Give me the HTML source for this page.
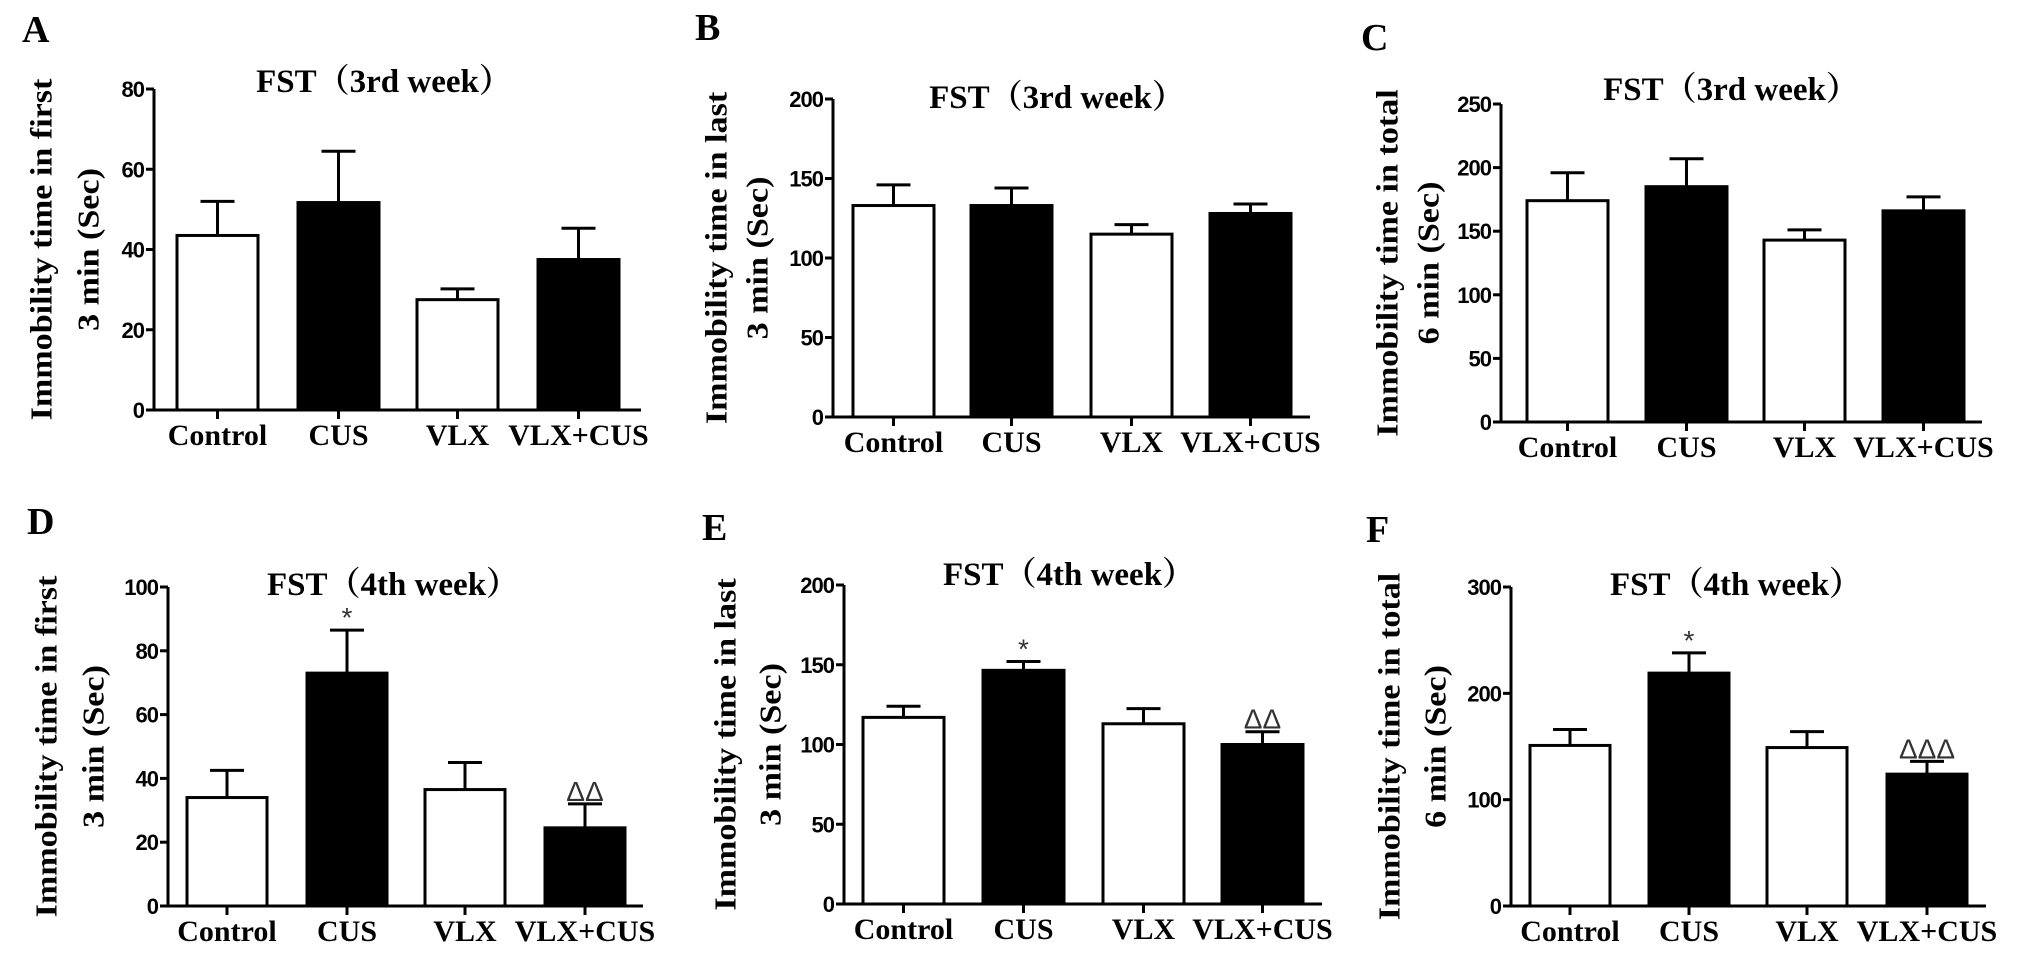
<!DOCTYPE html>
<html><head><meta charset="utf-8">
<style>
html,body{margin:0;padding:0;background:#fff;overflow:hidden;}
svg{display:block;}
.tick{font-family:"Liberation Sans",sans-serif;font-weight:bold;font-size:22px;letter-spacing:-1px;}
.cat{font-family:"Liberation Serif",serif;font-weight:bold;font-size:30px;}
.ttl{font-family:"Liberation Serif","Noto Serif CJK SC",serif;font-weight:bold;font-size:33px;}
.ylab{font-family:"Liberation Serif",serif;font-weight:bold;font-size:31px;}
.let{font-family:"Liberation Serif",serif;font-weight:bold;font-size:38px;}
.ann{font-family:"Liberation Sans","DejaVu Sans",sans-serif;font-size:28px;}
</style></head>
<body>
<svg id="fig" width="2031" height="972" viewBox="0 0 2031 972" xmlns="http://www.w3.org/2000/svg"></svg>
<script>
const categories = ["Control","CUS","VLX","VLX+CUS"];
const fills = ["#fff","#000","#fff","#000"];
// Panel A
const aMeans = [43.5, 51.7, 27.5, 37.5];
const aErrs = [8.5, 12.8, 2.7, 7.8];
const aTicks = [0,20,40,60,80];
const aAnn = ["","","",""];
// Panel B
const bMeans = [133, 133, 115, 128];
const bErrs = [13, 11, 6, 6];
const bTicks = [0,50,100,150,200];
const bAnn = ["","","",""];
// Panel C
const cMeans = [174, 185, 143, 166];
const cErrs = [22, 22, 8, 11];
const cTicks = [0,50,100,150,200,250];
const cAnn = ["","","",""];
// Panel D
const dMeans = [34, 73, 36.5, 24.5];
const dErrs = [8.5, 13.5, 8.5, 7.5];
const dTicks = [0,20,40,60,80,100];
const dAnn = ["","*","","ΔΔ"];
// Panel E
const eMeans = [117, 146.5, 113, 100];
const eErrs = [7, 5.5, 9.5, 8];
const eTicks = [0,50,100,150,200];
const eAnn = ["","*","","ΔΔ"];
// Panel F
const fMeans = [151, 219, 149, 124];
const fErrs = [15, 19, 15, 12];
const fTicks = [0,100,200,300];
const fAnn = ["","*","","ΔΔΔ"];

const panels = [
 {id:"a",L:"A",means:aMeans,errs:aErrs,ticks:aTicks,ann:aAnn,title:"FST（3rd week）",y1:"Immobility time in first",y2:"3 min (Sec)",
  ax:154,ay0:410,ayTop:89,axEnd:641,barL:[177,298,417,538],bw:81,tx:384,ty:92,lx:22,ly:42,yl1:42,yl2:89},
 {id:"b",L:"B",means:bMeans,errs:bErrs,ticks:bTicks,ann:bAnn,title:"FST（3rd week）",y1:"Immobility time in last",y2:"3 min (Sec)",
  ax:833,ay0:417,ayTop:99,axEnd:1310,barL:[853,971,1091,1210],bw:81,tx:1057,ty:108,lx:695,ly:40,yl1:717,yl2:758},
 {id:"c",L:"C",means:cMeans,errs:cErrs,ticks:cTicks,ann:cAnn,title:"FST（3rd week）",y1:"Immobility time in total",y2:"6 min (Sec)",
  ax:1501,ay0:422,ayTop:104,axEnd:1982,barL:[1527,1646,1764,1883],bw:81,tx:1731,ty:100,lx:1361,ly:50,yl1:1388,yl2:1429},
 {id:"d",L:"D",means:dMeans,errs:dErrs,ticks:dTicks,ann:dAnn,title:"FST（4th week）",y1:"Immobility time in first",y2:"3 min (Sec)",
  ax:168,ay0:906,ayTop:587,axEnd:643,barL:[187,307,425,545],bw:80,tx:393,ty:595,lx:27,ly:534,yl1:47,yl2:94},
 {id:"e",L:"E",means:eMeans,errs:eErrs,ticks:eTicks,ann:eAnn,title:"FST（4th week）",y1:"Immobility time in last",y2:"3 min (Sec)",
  ax:844,ay0:904,ayTop:585,axEnd:1322,barL:[863,983,1103,1222],bw:81,tx:1069,ty:585,lx:702,ly:540,yl1:726,yl2:771},
 {id:"f",L:"F",means:fMeans,errs:fErrs,ticks:fTicks,ann:fAnn,title:"FST（4th week）",y1:"Immobility time in total",y2:"6 min (Sec)",
  ax:1511,ay0:906,ayTop:587,axEnd:1986,barL:[1530,1649,1767,1887],bw:80,tx:1736,ty:595,lx:1366,ly:542,yl1:1390,yl2:1436}
];
const NS="http://www.w3.org/2000/svg";
const svg=document.getElementById("fig");
function mk(tag,attrs,parent,txt){const e=document.createElementNS(NS,tag);for(const k in attrs)e.setAttribute(k,attrs[k]);if(txt!==undefined)e.textContent=txt;parent.appendChild(e);return e;}
panels.forEach(p=>{
  const g=mk("g",{},svg);
  
  
  const ymax=p.ticks[p.ticks.length-1];
  const y=v=>p.ay0-(v/ymax)*(p.ay0-p.ayTop);
  const lt=mk("text",{x:p.lx,y:p.ly,class:"let"},g,p.L);
  
  
  const t=mk("text",{x:p.tx,y:p.ty,class:"ttl","text-anchor":"middle"},g,p.title);
  
  
  const cy=(p.ay0+p.ayTop)/2;
  const l1=mk("text",{x:0,y:0,class:"ylab","text-anchor":"middle","dominant-baseline":"central",transform:`translate(${p.yl1},${cy}) rotate(-90) scale(1.1,1)`},g,p.y1);
  
  
  const l2=mk("text",{x:0,y:0,class:"ylab","text-anchor":"middle","dominant-baseline":"central",transform:`translate(${p.yl2},${cy}) rotate(-90) scale(1.1,1)`},g,p.y2);
  
  
  p.means.forEach((m,i)=>{
    const x0=p.barL[i],cx=x0+p.bw/2;
    const top=y(m),et=y(m+p.errs[i]);
    const el=mk("line",{x1:cx,x2:cx,y1:top,y2:et,stroke:"#000","stroke-width":3},g);
    
    
    mk("line",{x1:cx-17,x2:cx+17,y1:et,y2:et,stroke:"#000","stroke-width":3},g);
    const r=mk("rect",{x:x0,y:top,width:p.bw,height:p.ay0-top,fill:fills[i],stroke:"#000","stroke-width":3},g);
    
    
    if(p.ann[i]){
      const a=mk("text",{x:cx,y:et-3,class:"ann","text-anchor":"middle",fill:"#333"},g,p.ann[i]);
      
      
    }
    mk("line",{x1:cx,x2:cx,y1:p.ay0,y2:p.ay0+9,stroke:"#000","stroke-width":3},g);
    const c=mk("text",{x:cx,y:p.ay0+35,class:"cat","text-anchor":"middle"},g,categories[i]);
    
    
  });
  const ya=mk("line",{x1:p.ax,x2:p.ax,y1:p.ayTop,y2:p.ay0+1.5,stroke:"#000","stroke-width":3},g);
  
  
  const xa=mk("line",{x1:p.ax-8,x2:p.axEnd,y1:p.ay0,y2:p.ay0,stroke:"#000","stroke-width":3},g);
  
  
  p.ticks.forEach(tv=>{
    const ty=y(tv);
    mk("line",{x1:p.ax-8,x2:p.ax,y1:ty,y2:ty,stroke:"#000","stroke-width":3},g);
    const tl=mk("text",{x:p.ax-10,y:ty+8,class:"tick","text-anchor":"end"},g,String(tv));
    
    
  });
});
</script>
</body></html>
